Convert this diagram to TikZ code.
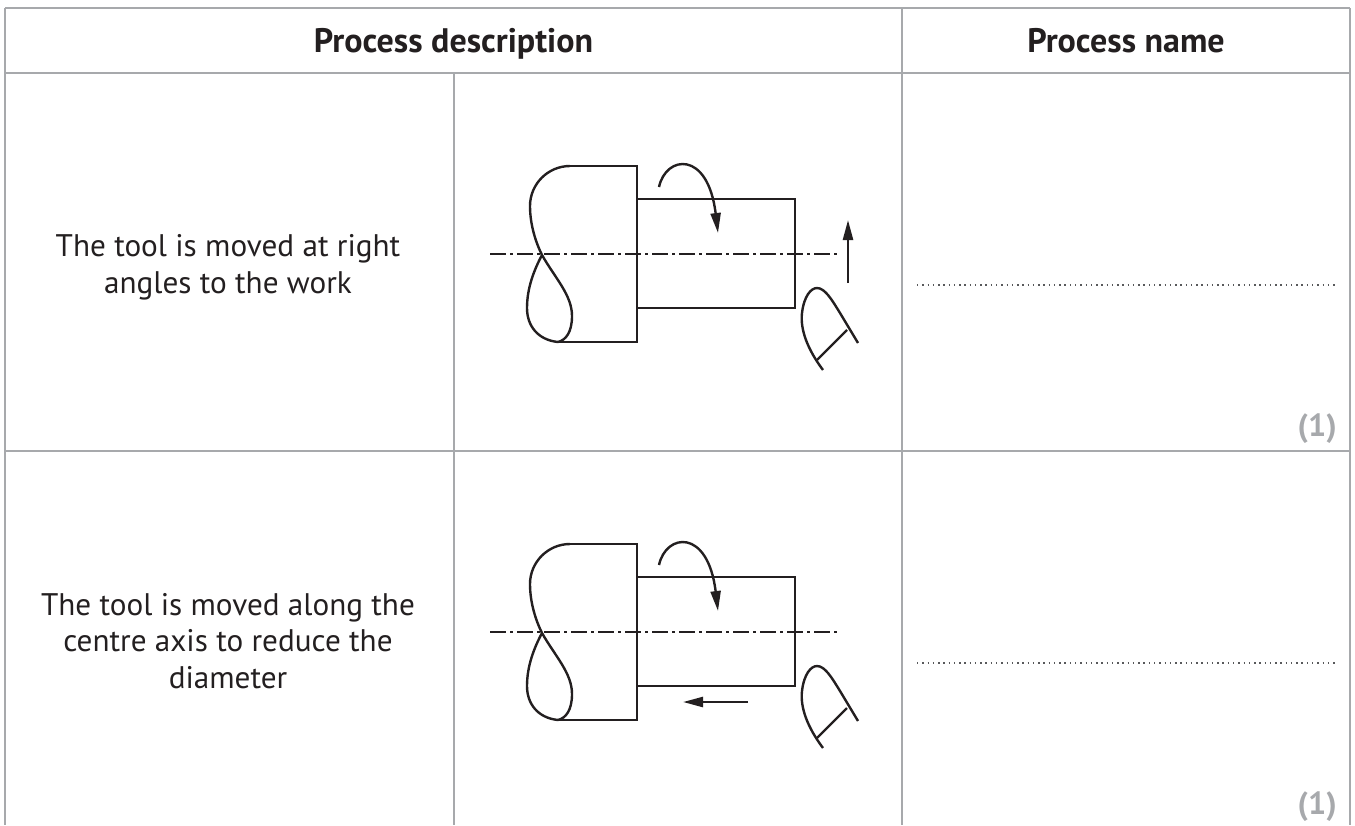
\documentclass[tikz,border=0pt]{standalone}
\usepackage{fontspec}
\setmainfont{PT Sans}
\usetikzlibrary{arrows.meta}
\definecolor{ink}{HTML}{231F20}
\definecolor{rulegray}{HTML}{A7A9AC}
\definecolor{markgray}{HTML}{A7A9AC}
\definecolor{dotgray}{HTML}{58595B}
\tikzset{
  gridline/.style={draw=rulegray,line width=1.5pt},
  shaft/.style={draw=ink,line width=1.8pt},
  centreline/.style={draw=ink,line width=1.8pt,dash pattern=on 12pt off 3pt on 2.25pt off 3pt},
  dotline/.style={draw=dotgray,line width=1.1pt,dash pattern=on 1.1pt off 2.85pt},
  tipped/.style={shaft,-{Triangle[length=15pt,width=7.5pt]}},
  headtext/.style={font=\fontsize{25.5}{29}\selectfont\bfseries,text=ink,inner sep=0pt,anchor=base},
  bodytext/.style={font=\fontsize{23.4}{27.5}\selectfont,text=ink,inner sep=0pt,align=center},
  marktext/.style={font=\fontsize{24}{28}\selectfont\bfseries,text=markgray,inner sep=0pt,anchor=base east},
  pics/lathe/.style={code={
    \draw[shaft] (570,166) -- (637,166) -- (637,342) -- (558,342);
    \draw[shaft] (570,166) .. controls (548,166) and (530,184) .. (530,206)
       .. controls (530,225) and (536,243) .. (542,255)
       .. controls (555,278) and (572,295) .. (572,316)
       .. controls (572,332) and (566,340) .. (558,342);
    \draw[shaft] (558,342) .. controls (538,340) and (527,326) .. (527,308)
       .. controls (527,288) and (534,270) .. (542,255);
    \draw[shaft] (637,199) rectangle (795,308);
    \draw[centreline] (490,254) -- (840,254);
    \draw[tipped] (659,187) .. controls (666,155) and (708,150) .. (718,233);
    \draw[shaft] (823,370) .. controls (808,350) and (800,330) .. (802,313)
       .. controls (804,296) and (811,288) .. (817,288)
       .. controls (825,288) and (832,300) .. (840,313) -- (858,343);
    \draw[shaft] (817,360) -- (847,330);
  }}
}
\begin{document}
\begin{tikzpicture}[x=0.75pt,y=-0.75pt]
\useasboundingbox (0,0) rectangle (1355,825);
% table grid
\draw[gridline] (5,8) -- (1350,8);
\draw[gridline] (5,73) -- (1350,73);
\draw[gridline] (5,451) -- (1350,451);
\draw[gridline] (5,8) -- (5,825);
\draw[gridline] (454,73) -- (454,825);
\draw[gridline] (902,8) -- (902,825);
\draw[gridline] (1350,8) -- (1350,825);
% headers
\node[headtext] (h1) at (453.5,52) {Process description};
\node[headtext] (h2) at (1126,52) {Process name};
% descriptions
\node[bodytext] (d1) at (228,267) {The tool is moved at right\\angles to the work};
\node[bodytext] (d2) at (228,641) {The tool is moved along the\\centre axis to reduce the\\diameter};
% drawings
\pic (row1) at (0,0) {lathe};
\pic (row2) at (0,378) {lathe};
\coordinate (upS) at (848,283);
\coordinate (upE) at (848,220);
\draw[tipped] (upS) -- (upE);
\coordinate (lfS) at (748,702);
\coordinate (lfE) at (683,702);
\draw[tipped] (lfS) -- (lfE);
% answer lines
\coordinate (a1s) at (917,285);
\coordinate (a1e) at (1337,285);
\draw[dotline] (a1s) -- (a1e);
\coordinate (a2s) at (917,663);
\coordinate (a2e) at (1337,663);
\draw[dotline] (a2s) -- (a2e);
% marks
\node[marktext] (m1) at (1337,436) {(1)};
\node[marktext] (m2) at (1337,814) {(1)};
\end{tikzpicture}
\end{document}
